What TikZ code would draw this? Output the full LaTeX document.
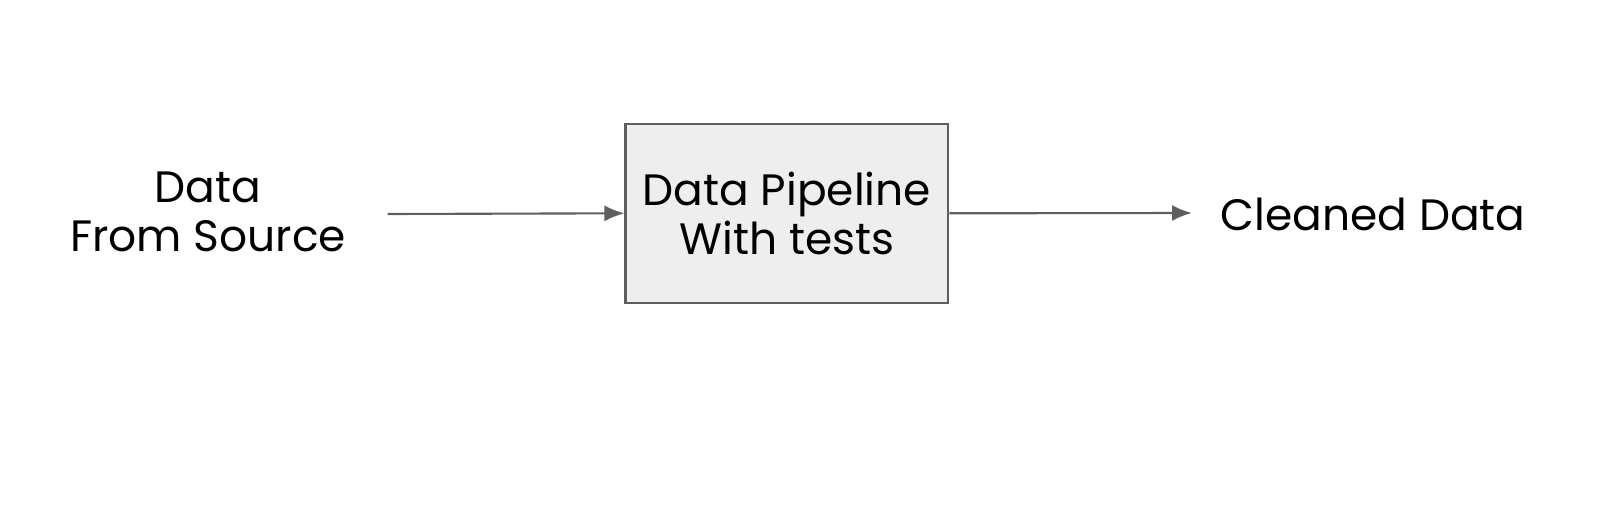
\documentclass[tikz,border=0pt]{standalone}
\usepackage{fontspec}
\setmainfont{Poppins}
\usetikzlibrary{positioning,arrows.meta}
\definecolor{boxfill}{HTML}{EEEEEE}
\definecolor{linegray}{HTML}{5F5F5F}
\begin{document}
\begin{tikzpicture}[
  lbl/.style={align=center,font=\fontsize{12.5}{14}\selectfont,inner sep=0pt},
  stage/.style={draw=linegray,fill=boxfill,line width=0.65pt,minimum width=3.226cm,minimum height=1.79cm,align=center,font=\fontsize{12.5}{14}\selectfont},
  flow/.style={-{Latex[length=2mm,width=1.6mm]},draw=linegray,line width=0.6pt}
]

\useasboundingbox (0,0) rectangle (16.16,5.16);

\node[lbl]   (src)  at (2.08,3.04) {Data\\From Source};
\node[stage] (pipe) at (7.869,3.027) {Data Pipeline\\With tests};
\node[lbl]   (out)  at (13.73,3.02) {Cleaned Data};

\coordinate (srcend) at (3.875,3.02);
\coordinate (outend) at (11.92,3.03);

\draw[flow] (srcend) -- (pipe.west);
\draw[flow] (pipe.east) -- (outend);

\end{tikzpicture}
\end{document}
